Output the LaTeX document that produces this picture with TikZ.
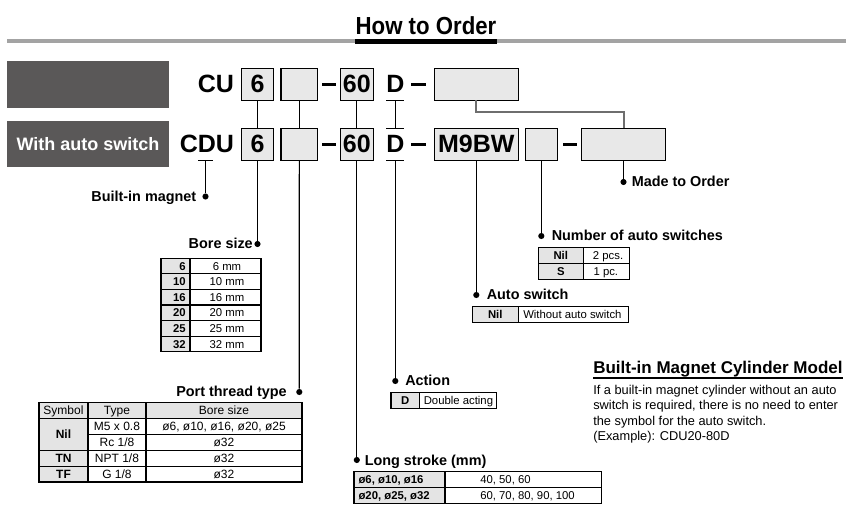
\documentclass[tikz,border=0pt]{standalone}
\usepackage{fontspec}
\usepackage{graphicx}
\usetikzlibrary{calc}
\setmainfont{Liberation Sans}
\definecolor{boxgray}{HTML}{E8E8E8}
\definecolor{cellgray}{HTML}{E4E4E4}
\definecolor{darkbox}{HTML}{5A5858}
\definecolor{rulegray}{HTML}{A3A3A3}
\definecolor{conngray}{HTML}{6E6E6E}
\tikzset{
  codebox/.style={draw=black, fill=boxgray, line width=1pt, inner sep=0pt, outer sep=0pt,
    font=\fontsize{18.75}{20}\selectfont\bfseries},
  bigtxt/.style={font=\fontsize{18.75}{20}\selectfont\bfseries, inner sep=0pt, outer sep=0pt},
  conn/.style={line width=0.9pt, draw=black},
  dotn/.style={circle, fill=black, inner sep=0pt, minimum size=4.6pt},
  lbl/.style={font=\fontsize{10.8}{12}\selectfont\bfseries, inner sep=0pt},
  tline/.style={line width=0.8pt},
  cell/.style={font=\fontsize{8.5}{9}\selectfont, inner sep=0pt},
  cellb/.style={font=\fontsize{8.5}{9}\selectfont\bfseries, inner sep=0pt},
  pcell/.style={font=\fontsize{9}{10}\selectfont, inner sep=0pt},
  pcellb/.style={font=\fontsize{9}{10}\selectfont\bfseries, inner sep=0pt},
  para/.style={font=\fontsize{9.6}{11}\selectfont, inner sep=0pt, anchor=base west},
}
\newcommand\codeboxat[6]{\node[codebox, minimum width={(#4-#2)*0.75pt}, minimum height={(#5-#3)*0.75pt}] (#1) at ({(#2+#4)/2},{(#3+#5)/2}) {#6};}
\newcommand\dletter[2]{\node[bigtxt, minimum width={14.5*0.75pt}, minimum height={32*0.75pt}] (#1) at (395.3,#2) {D};}
\begin{document}
\begin{tikzpicture}[x=0.75pt,y=-0.75pt]
\useasboundingbox (0,0) rectangle (850,520);

% title
\node[anchor=base, inner sep=0pt, font=\fontsize{18.5}{20}\selectfont\bfseries] (title) at (426,34.5) {\scalebox{0.9}[1]{How to Order}};
\draw[rulegray, line width=3pt] (7,41.5) -- (846,41.5);
\draw[black, line width=3.2pt] (355,41.5) -- (497,41.5);

% left grey boxes
\node[fill=darkbox, inner sep=0pt, minimum width={162*0.75pt}, minimum height={47*0.75pt}] (g1) at (88,84.5) {};
\node[fill=darkbox, inner sep=0pt, minimum width={162*0.75pt}, minimum height={46*0.75pt}, text=white,
  font=\fontsize{13.5}{15}\selectfont\bfseries] (g2) at (88,144) {With auto switch};

% row 1
\node[bigtxt, anchor=east] (cu) at (234,84.3) {CU};
\codeboxat{a6}{241.7}{68.3}{273.3}{100.3}{6}
\codeboxat{aE}{281}{68.3}{317.7}{100.3}{}
\fill (321.7,83) rectangle (335.7,86.5);
\codeboxat{a60}{340.3}{68.3}{373.3}{100.3}{60}
\dletter{aD}{84.3}
\fill (411,83) rectangle (425.5,86.5);
\codeboxat{aM}{434.3}{68.3}{518.3}{100.3}{}

% row 2
\node[bigtxt, anchor=east] (cdu) at (234,144.3) {CDU};
\codeboxat{b6}{241.7}{128.3}{273.3}{160.3}{6}
\codeboxat{bE}{281}{128.3}{317.7}{160.3}{}
\fill (321.7,143) rectangle (335.7,146.5);
\codeboxat{b60}{340.3}{128.3}{373.3}{160.3}{60}
\dletter{bD}{144.3}
\fill (411,143) rectangle (425.5,146.5);
\codeboxat{bSw}{434.3}{128.3}{518.3}{160.3}{M9BW}
\codeboxat{bN}{525.3}{128.3}{557.3}{160.3}{}
\fill (562.7,143) rectangle (576.7,146.5);
\codeboxat{bM}{581.3}{128.3}{665.7}{160.3}{}

% connectors between rows
\draw[conn] (a6.south) -- (b6.north);
\draw[conn] (aE.south) -- (bE.north);
\draw[conn] (a60.south) -- (b60.north);
\draw[conn] (aD.south west) -- (aD.south east);
\draw[conn] (aD.south) -- (bD.north);
\draw[conn] (bD.north west) -- (bD.north east);
\coordinate (jog) at (550,111.7);
\draw[conngray, line width=1.5pt] (aM.south) |- (jog) -| (bM.north);

% dots
\node[dotn] (dMag) at (205.5,196.5) {};
\node[dotn] (dBore) at (257.5,244) {};
\node[dotn] (dPort) at (299.3,392) {};
\node[dotn] (dStroke) at (356.8,460) {};
\node[dotn] (dAct) at (395.3,381) {};
\node[dotn] (dSw) at (476.3,295) {};
\node[dotn] (dNum) at (541.3,236) {};
\node[dotn] (dMTO) at (623.5,182) {};

% connectors to labels
\coordinate (cduD) at (205.5,160.3);
\coordinate (cduDl) at (198,160.3);
\coordinate (cduDr) at (212.7,160.3);
\draw[conn] (cduDl) -- (cduDr);
\draw[conn] (cduD) -- (dMag);
\draw[conn] (b6.south) -- (dBore);
\draw[conn] (bE.south) -- (dPort);
\draw[conn] (b60.south) -- (dStroke);
\draw[conn] (bD.south west) -- (bD.south east);
\draw[conn] (bD.south) -- (dAct);
\draw[conn] (bSw.south) -- (dSw);
\draw[conn] (bN.south) -- (dNum);
\draw[conn] (bM.south) -- (dMTO);

% labels
\node[lbl, anchor=base east] (tMag) at (196.5,201.5) {Built-in magnet};
\node[lbl, anchor=base east] (tBore) at (253,249) {Bore size};
\node[lbl, anchor=base east] (tPort) at (287,397) {Port thread type};
\node[lbl, anchor=base west] (tStroke) at (364.5,465) {Long stroke (mm)};
\node[lbl, anchor=base west] (tAct) at (405,386) {Action};
\node[lbl, anchor=base west] (tSw) at (486.5,300) {Auto switch};
\node[lbl, anchor=base west] (tNum) at (551.5,241) {Number of auto switches};
\node[lbl, anchor=base west] (tMTO) at (631.5,187) {Made to Order};

% bore size table
\fill[cellgray] (161,258.3) rectangle (190,351.7);
\draw[tline] (161,258.3) rectangle (261,351.7);
\draw[tline] (190,258.3) -- (190,351.7);
\foreach \i in {1,...,5} \draw[tline] (161,{258.3+15.57*\i}) -- (261,{258.3+15.57*\i});
\foreach \n [count=\i from 0] in {6,10,16,20,25,32} {
  \node[cellb, anchor=base east] (bs\n) at (186,{266.1+15.57*\i+4.1}) {\n};
  \node[cell, anchor=base] (bm\n) at (227,{266.1+15.57*\i+4.1}) {\n\ mm};
}

% port thread table
\fill[cellgray] (39,402.5) rectangle (302,418.4);
\fill[cellgray] (39,418.4) rectangle (88,482);
\draw[tline] (39,402.5) rectangle (302,482);
\draw[tline] (88,402.5) -- (88,482);
\draw[tline] (146,402.5) -- (146,482);
\draw[tline] (39,418.4) -- (302,418.4);
\draw[tline] (88,434.3) -- (302,434.3);
\draw[tline] (39,450.2) -- (302,450.2);
\draw[tline] (39,466.1) -- (302,466.1);
\node[pcell, anchor=base] (ph1) at (63.5,414.8) {Symbol};
\node[pcell, anchor=base] (ph2) at (117,414.8) {Type};
\node[pcell, anchor=base] (ph3) at (224,414.8) {Bore size};
\node[pcellb, anchor=base] (pnil) at (63.5,438.6) {Nil};
\node[pcell, anchor=base] (pt1) at (117,430.6) {M5 x 0.8};
\node[pcell, anchor=base] (pb1) at (224,430.6) {ø6, ø10, ø16, ø20, ø25};
\node[pcell, anchor=base] (pt2) at (117,446.5) {Rc 1/8};
\node[pcell, anchor=base] (pb2) at (224,446.5) {ø32};
\node[pcellb, anchor=base] (ptn) at (63.5,462.4) {TN};
\node[pcell, anchor=base] (pt3) at (117,462.4) {NPT 1/8};
\node[pcell, anchor=base] (pb3) at (224,462.4) {ø32};
\node[pcellb, anchor=base] (ptf) at (63.5,478.3) {TF};
\node[pcell, anchor=base] (pt4) at (117,478.3) {G 1/8};
\node[pcell, anchor=base] (pb4) at (224,478.3) {ø32};

% action table
\fill[cellgray] (391,392.3) rectangle (419.3,408.3);
\draw[tline] (391,392.3) rectangle (496.7,408.3);
\draw[tline] (419.3,392.3) -- (419.3,408.3);
\node[cellb, anchor=base] (aDc) at (405.2,404.4) {D};
\node[cell, anchor=base west] (aDt) at (423.5,404.4) {Double acting};

% long stroke table
\fill[cellgray] (354,471.7) rectangle (445,503.3);
\draw[tline] (354,471.7) rectangle (601.7,503.3);
\draw[tline] (445,471.7) -- (445,503.3);
\draw[tline] (354,487.5) -- (601.7,487.5);
\node[cellb, anchor=base west] (ls1) at (358.3,483.7) {ø6, ø10, ø16};
\node[cell, anchor=base west] (lv1) at (480,483.7) {40, 50, 60};
\node[cellb, anchor=base west] (ls2) at (358.3,499.5) {ø20, ø25, ø32};
\node[cell, anchor=base west] (lv2) at (480,499.5) {60, 70, 80, 90, 100};

% number of auto switches table
\fill[cellgray] (538.3,247.3) rectangle (583.3,279.3);
\draw[tline] (538.3,247.3) rectangle (629.3,279.3);
\draw[tline] (583.3,247.3) -- (583.3,279.3);
\draw[tline] (538.3,263.3) -- (629.3,263.3);
\node[cellb, anchor=base] (nNil) at (560.8,259.4) {Nil};
\node[cell, anchor=base west] (n2) at (592.7,259.4) {2 pcs.};
\node[cellb, anchor=base] (nS) at (560.8,275.4) {S};
\node[cell, anchor=base west] (n1) at (593.3,275.4) {1 pc.};

% auto switch table
\fill[cellgray] (472.3,306.7) rectangle (518.3,322.3);
\draw[tline] (472.3,306.7) rectangle (628.7,322.3);
\draw[tline] (518.3,306.7) -- (518.3,322.3);
\node[cellb, anchor=base] (sNil) at (495.3,318.6) {Nil};
\node[cell, anchor=base west] (sW) at (523,318.6) {Without auto switch};

% built-in magnet cylinder model
\node[anchor=base west, inner sep=0pt, font=\fontsize{12.75}{14}\selectfont\bfseries] (head) at (593,373.8) {Built-in Magnet Cylinder Model};
\draw[line width=0.9pt] ($(head.base west)+(0,4.3)$) -- ($(head.base east)+(0,4.3)$);
\node[para] (p1) at (593,394.5) {If a built-in magnet cylinder without an auto};
\node[para] (p2) at (593,409.8) {switch is required, there is no need to enter};
\node[para] (p3) at (593,425) {the symbol for the auto switch.};
\node[para] (p4) at (593,440.3) {(Example): CDU20-80D};
\end{tikzpicture}
\end{document}
